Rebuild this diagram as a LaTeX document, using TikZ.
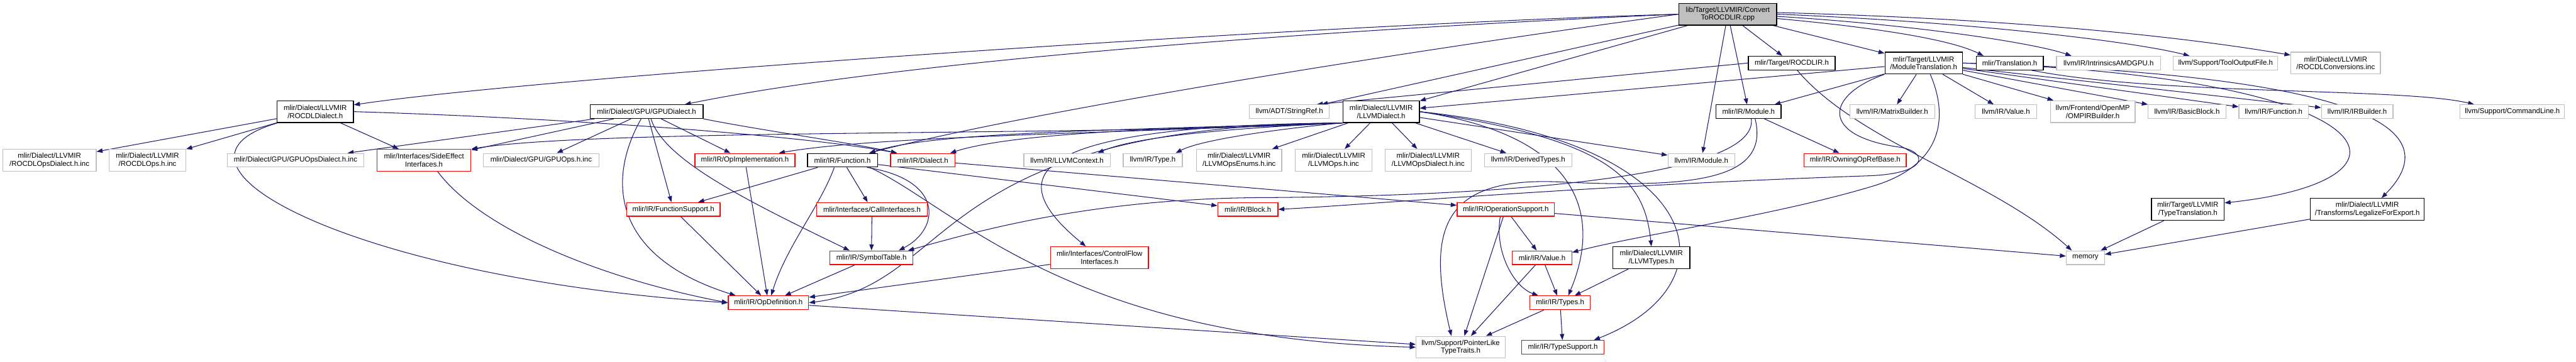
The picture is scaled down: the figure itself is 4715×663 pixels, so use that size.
\documentclass[tikz,border=0pt]{standalone}
\usepackage{fontspec}
\setmainfont{Liberation Sans}
\usepackage{xcolor}
\usepackage{tikz}
\usetikzlibrary{arrows.meta}
\definecolor{edgeblue}{HTML}{191970}
\definecolor{boxgray}{HTML}{BFBFBF}
\pgfdeclarelayer{edges}
\pgfsetlayers{edges,main}
\tikzset{
  file/.style={rectangle,draw,fill=white,line width=1.4pt,inner sep=0pt,align=center,font=\fontsize{13.2}{14.5}\selectfont,minimum height=25pt},
  twoline/.style={minimum height=40pt},
  rootfile/.style={file,fill=boxgray,draw=black},
  docfile/.style={file,draw=black},
  cutfile/.style={file,draw=red},
  extfile/.style={file,draw=boxgray},
  dep/.style={draw=edgeblue,line width=1.2pt,-{Triangle[length=11pt,width=8pt]}}
}
\begin{document}
\begin{tikzpicture}[x=1pt,y=-1pt]
        \clip (0,0) rectangle (4715,663);
        \node[rootfile,twoline,minimum width=179pt] (root) at (3162.5,26) {lib/Target/LLVMIR/Convert\\ToROCDLIR.cpp};

        \node[docfile,minimum width=159pt] (rocdlir) at (3279.5,115.5) {mlir/Target/ROCDLIR.h};
        \node[docfile,twoline,minimum width=142pt] (modtrans) at (3521,115.5) {mlir/Target/LLVMIR\\/ModuleTranslation.h};
        \node[docfile,minimum width=123pt] (translation) at (3678.5,115.5) {mlir/Translation.h};
        \node[extfile,minimum width=191pt] (amdgpu) at (3859.5,115.5) {llvm/IR/IntrinsicsAMDGPU.h};
        \node[extfile,minimum width=191pt] (tooloutput) at (4073.5,115.5) {llvm/Support/ToolOutputFile.h};
        \node[extfile,twoline,minimum width=164pt] (rocdlconv) at (4275,115.5) {mlir/Dialect/LLVMIR\\/ROCDLConversions.inc};

        \node[docfile,twoline,minimum width=140pt] (rocdldialect) at (577,204.5) {mlir/Dialect/LLVMIR\\/ROCDLDialect.h};
        \node[docfile,minimum width=207pt] (gpudialect) at (1183.5,204.5) {mlir/Dialect/GPU/GPUDialect.h};
        \node[extfile,minimum width=146pt] (stringref) at (2360,204.5) {llvm/ADT/StringRef.h};
        \node[docfile,twoline,minimum width=140pt] (llvmdialect) at (2528,204.5) {mlir/Dialect/LLVMIR\\/LLVMDialect.h};
        \node[docfile,minimum width=119pt] (mlirmodule) at (3200.5,204.5) {mlir/IR/Module.h};
        \node[extfile,minimum width=155pt] (matrixbuilder) at (3463.5,204.5) {llvm/IR/MatrixBuilder.h};
        \node[extfile,minimum width=113pt] (llvmvalue) at (3671.5,204.5) {llvm/IR/Value.h};
        \node[extfile,twoline,minimum width=155pt] (ompirbuilder) at (3830.5,204.5) {llvm/Frontend/OpenMP\\/OMPIRBuilder.h};
        \node[extfile,minimum width=142pt] (basicblock) at (4003,204.5) {llvm/IR/BasicBlock.h};
        \node[extfile,minimum width=127pt] (llvmfunction) at (4161.5,204.5) {llvm/IR/Function.h};
        \node[extfile,minimum width=131pt] (irbuilder) at (4314.5,204.5) {llvm/IR/IRBuilder.h};
        \node[extfile,minimum width=191pt] (commandline) at (4598.5,204.5) {llvm/Support/CommandLine.h};

        \node[extfile,twoline,minimum width=171pt] (rocdlopsdialectinc) at (90.5,293.5) {mlir/Dialect/LLVMIR\\/ROCDLOpsDialect.h.inc};
        \node[extfile,twoline,minimum width=140pt] (rocdlopsinc) at (270,293.5) {mlir/Dialect/LLVMIR\\/ROCDLOps.h.inc};
        \node[extfile,minimum width=250pt] (gpuopsdialectinc) at (541,293.5) {mlir/Dialect/GPU/GPUOpsDialect.h.inc};
        \node[cutfile,twoline,minimum width=172pt] (sideeffect) at (776,293.5) {mlir/Interfaces/SideEffect\\Interfaces.h};
        \node[extfile,minimum width=211pt] (gpuopsinc) at (990.5,293.5) {mlir/Dialect/GPU/GPUOps.h.inc};
        \node[cutfile,minimum width=183pt] (opimpl) at (1363.5,293.5) {mlir/IR/OpImplementation.h};
        \node[docfile,minimum width=128pt] (function) at (1542,293.5) {mlir/IR/Function.h};
        \node[cutfile,minimum width=118pt] (dialect) at (1689,293.5) {mlir/IR/Dialect.h};
        \node[extfile,minimum width=158pt] (llvmcontext) at (1953,293.5) {llvm/IR/LLVMContext.h};
        \node[extfile,minimum width=108pt] (lltype) at (2110,293.5) {llvm/IR/Type.h};
        \node[extfile,twoline,minimum width=156pt] (llvmopsenums) at (2268,293.5) {mlir/Dialect/LLVMIR\\/LLVMOpsEnums.h.inc};
        \node[extfile,twoline,minimum width=140pt] (llvmopsinc) at (2441,293.5) {mlir/Dialect/LLVMIR\\/LLVMOps.h.inc};
        \node[extfile,twoline,minimum width=158pt] (llvmopsdialectinc) at (2614,293.5) {mlir/Dialect/LLVMIR\\/LLVMOpsDialect.h.inc};
        \node[extfile,minimum width=160pt] (derivedtypes) at (2797,293.5) {llvm/IR/DerivedTypes.h};
        \node[extfile,minimum width=122pt] (llvmmodule) at (3114,293.5) {llvm/IR/Module.h};
        \node[cutfile,minimum width=187pt] (owningopref) at (3395.5,293.5) {mlir/IR/OwningOpRefBase.h};

        \node[cutfile,minimum width=171pt] (functionsupport) at (1232.5,383.5) {mlir/IR/FunctionSupport.h};
        \node[cutfile,minimum width=202pt] (callinterfaces) at (1596,383.5) {mlir/Interfaces/CallInterfaces.h};
        \node[cutfile,minimum width=110pt] (block) at (2284,383.5) {mlir/IR/Block.h};
        \node[cutfile,minimum width=178pt] (opsupport) at (2756,383.5) {mlir/IR/OperationSupport.h};
        \node[docfile,twoline,minimum width=133pt] (typetranslation) at (4004.5,383.5) {mlir/Target/LLVMIR\\/TypeTranslation.h};
        \node[docfile,twoline,minimum width=208pt] (legalize) at (4333,383.5) {mlir/Dialect/LLVMIR\\/Transforms/LegalizeForExport.h};

        \node[cutfile,minimum width=152pt] (symboltable) at (1595,472) {mlir/IR/SymbolTable.h};
        \node[cutfile,twoline,minimum width=179pt] (controlflow) at (2012.5,472) {mlir/Interfaces/ControlFlow\\Interfaces.h};
        \node[cutfile,minimum width=109pt] (mlirvalue) at (2822.5,472) {mlir/IR/Value.h};
        \node[docfile,twoline,minimum width=141pt] (llvmtypes) at (3022.5,472) {mlir/Dialect/LLVMIR\\/LLVMTypes.h};
        \node[extfile,minimum width=70pt] (memory) at (3817,472) {memory};

        \node[cutfile,minimum width=147pt] (opdefinition) at (1406.5,554.5) {mlir/IR/OpDefinition.h};
        \node[cutfile,minimum width=111pt] (types) at (2855.5,554.5) {mlir/IR/Types.h};

        \node[extfile,twoline,minimum width=163pt] (pointerlike) at (2673.5,636) {llvm/Support/PointerLike\\TypeTraits.h};
        \node[cutfile,minimum width=151pt] (typesupport) at (2860.5,636) {mlir/IR/TypeSupport.h};

        \begin{pgfonlayer}{edges}
        \draw[dep] (root.west) .. controls (2400,45) and (1000,140) .. (rocdldialect.10);
        \draw[dep] (root.west) .. controls (2300,60) and (1600,120) .. ([xshift=70pt]gpudialect.north);
        \draw[dep] (root.west) .. controls (2600,90) and (1900,200) .. ([xshift=49pt]function.north);
        \draw[dep] (root) -- (stringref);
        \draw[dep] (root) -- (llvmdialect);
        \draw[dep] (root) -- (llvmmodule);
        \draw[dep] (root) -- (mlirmodule);
        \draw[dep] (root) -- (rocdlir);
        \draw[dep] (root) -- (modtrans);
        \draw[dep] ([yshift=-8pt]root.east) .. controls (3430,50) and (3570,72) .. ([xshift=-48pt]translation.north);
        \draw[dep] ([yshift=-4pt]root.east) .. controls (3500,45) and (3720,78) .. ([xshift=-68pt]amdgpu.north);
        \draw[dep] (root.east) .. controls (3600,40) and (3900,75) .. ([xshift=-66pt]tooloutput.north);
        \draw[dep] ([yshift=3pt]root.east) .. controls (3700,35) and (4000,68) .. (rocdlconv.170);

        \draw[dep] (rocdldialect) -- (rocdlopsdialectinc);
        \draw[dep] (rocdldialect) -- (rocdlopsinc);
        \draw[dep] (rocdldialect) -- (sideeffect);
        \draw[dep] ([xshift=-69pt]rocdldialect.south) .. controls (250,300) and (650,510) .. (opdefinition.west);
        \draw[dep] (rocdldialect.east) .. controls (1000,215) and (1450,245) .. ([xshift=-47pt]dialect.north);

        \draw[dep] (gpudialect) -- (gpuopsdialectinc);
        \draw[dep] (gpudialect) -- (sideeffect);
        \draw[dep] (gpudialect) -- (gpuopsinc);
        \draw[dep] (gpudialect) -- (functionsupport);
        \draw[dep] (gpudialect) -- (opimpl);
        \draw[dep] ([xshift=-10pt]gpudialect.south) .. controls (1110,330) and (1120,470) .. ([xshift=-60pt]opdefinition.north);
        \draw[dep] ([xshift=8pt]gpudialect.south) .. controls (1215,290) and (1350,360) .. ([xshift=-40pt]symboltable.north);
        \draw[dep] (gpudialect.south east) .. controls (1400,240) and (1550,260) .. ([xshift=-47pt]dialect.north);

        \draw[dep] (function) -- (functionsupport);
        \draw[dep] (function) -- (callinterfaces);
        \draw[dep] (function) -- (block);
        \draw[dep] ([xshift=-15pt]function.south) .. controls (1500,380) and (1440,450) .. ([xshift=5pt]opdefinition.north);
        \draw[dep] ([xshift=45pt]function.south) .. controls (1730,330) and (1720,420) .. ([xshift=50pt]symboltable.north);
        \draw[dep] ([xshift=50pt]function.south) .. controls (1750,380) and (1950,620) .. (pointerlike.west);

        \draw[dep] (functionsupport) -- (opdefinition);
        \draw[dep] ([xshift=25pt]sideeffect.south) .. controls (880,420) and (1100,510) .. (opdefinition.west);
        \draw[dep] (opimpl) -- (opdefinition);
        \draw[dep] (callinterfaces) -- (symboltable);
        \draw[dep] (symboltable) -- (opdefinition);
        \draw[dep] (controlflow) -- (opdefinition);
        \draw[dep] (opdefinition) -- (pointerlike);
        \draw[dep] (dialect) -- (opsupport);

        \draw[dep] (opsupport) -- (pointerlike);
        \draw[dep] (opsupport) -- (mlirvalue);
        \draw[dep] ([xshift=-10pt]opsupport.south) .. controls (2735,460) and (2770,525) .. ([xshift=-40pt]types.north);
        \draw[dep] (opsupport) -- (memory);
        \draw[dep] (mlirvalue) -- (types);
        \draw[dep] (mlirvalue) -- (pointerlike);
        \draw[dep] (types) -- (pointerlike);
        \draw[dep] (types) -- (typesupport);
        \draw[dep] (llvmtypes) -- (types);

        \draw[dep] (llvmdialect.south west) .. controls (2000,250) and (1100,235) .. (sideeffect.north east);
        \draw[dep] (llvmdialect.south west) .. controls (2000,245) and (1600,250) .. ([xshift=62pt]opimpl.north);
        \draw[dep] (llvmdialect.south west) .. controls (2100,235) and (1850,245) .. ([xshift=50pt]dialect.north);
        \draw[dep] (llvmdialect.south west) .. controls (1950,240) and (1700,245) .. ([xshift=49pt]function.north);
        \draw[dep] (llvmdialect.south west) .. controls (2250,235) and (2080,250) .. ([xshift=56pt]llvmcontext.north);
        \draw[dep] (llvmdialect.south west) .. controls (2350,235) and (2200,255) .. ([xshift=42pt]lltype.north);
        \draw[dep] (llvmdialect) -- (llvmopsenums);
        \draw[dep] (llvmdialect) -- (llvmopsinc);
        \draw[dep] (llvmdialect) -- (llvmopsdialectinc);
        \draw[dep] (llvmdialect) -- (derivedtypes);
        \draw[dep] (llvmdialect) -- (llvmmodule);
        \draw[dep] (llvmdialect.south west) .. controls (1700,230) and (1750,520) .. (opdefinition.east);
        \draw[dep] (llvmdialect.south west) .. controls (1850,230) and (1840,330) .. ([xshift=-25pt]controlflow.north);
        \draw[dep] (llvmdialect.east) .. controls (2900,250) and (2930,400) .. ([xshift=15pt]types.north);
        \draw[dep] (llvmdialect.east) .. controls (2950,255) and (3010,330) .. (llvmtypes.north);
        \draw[dep] (llvmdialect.east) .. controls (3130,260) and (3180,520) .. ([xshift=57pt]typesupport.north);

        \draw[dep] (modtrans) -- (llvmdialect);
        \draw[dep] (modtrans) -- (mlirmodule);
        \draw[dep] (modtrans) -- (matrixbuilder);
        \draw[dep] (modtrans) -- (llvmvalue);
        \draw[dep] (modtrans) -- (ompirbuilder);
        \draw[dep] (modtrans) -- (basicblock);
        \draw[dep] (modtrans) -- (llvmfunction);
        \draw[dep] (modtrans) -- (irbuilder);
        \draw[dep] (modtrans.east) .. controls (4380,140) and (4460,330) .. (typetranslation.10);
        \draw[dep] (modtrans.east) .. controls (4420,140) and (4460,260) .. ([xshift=26pt]legalize.north);
        \draw[dep] ([xshift=12pt]modtrans.south) .. controls (3565,210) and (3560,300) .. (3431,340) .. controls (3250,395) and (3000,430) .. (mlirvalue.10);
        \draw[dep] (modtrans.south west) .. controls (3340,175) and (3330,250) .. (3480,270) .. controls (3530,280) and (3530,318) .. (3420,322) .. controls (2900,340) and (2500,375) .. (block.east);

        \draw[dep] (rocdlir.west) -- ([xshift=50pt]stringref.north);
        \draw[dep] ([xshift=10pt]rocdlir.south) .. controls (3400,260) and (3650,330) .. ([xshift=-25pt]memory.north);
        \draw[dep] ([xshift=40pt]translation.south) .. controls (3950,175) and (4400,160) .. ([xshift=-70pt]commandline.north);
        \draw[dep] (mlirmodule) -- (owningopref);
        \draw[dep] ([xshift=5pt]mlirmodule.south) .. controls (3220,330) and (2700,360) .. (2300,362) .. controls (2000,365) and (1800,420) .. ([xshift=67pt]symboltable.north);
        \draw[dep] ([xshift=12pt]mlirmodule.south) .. controls (3240,330) and (3100,345) .. (2850,333) .. controls (2640,325) and (2610,420) .. ([xshift=-17pt]pointerlike.north);
        \draw[dep] (typetranslation) -- (memory);
        \draw[dep] (legalize) -- (memory);
        \end{pgfonlayer}
        \end{tikzpicture}
\end{document}
